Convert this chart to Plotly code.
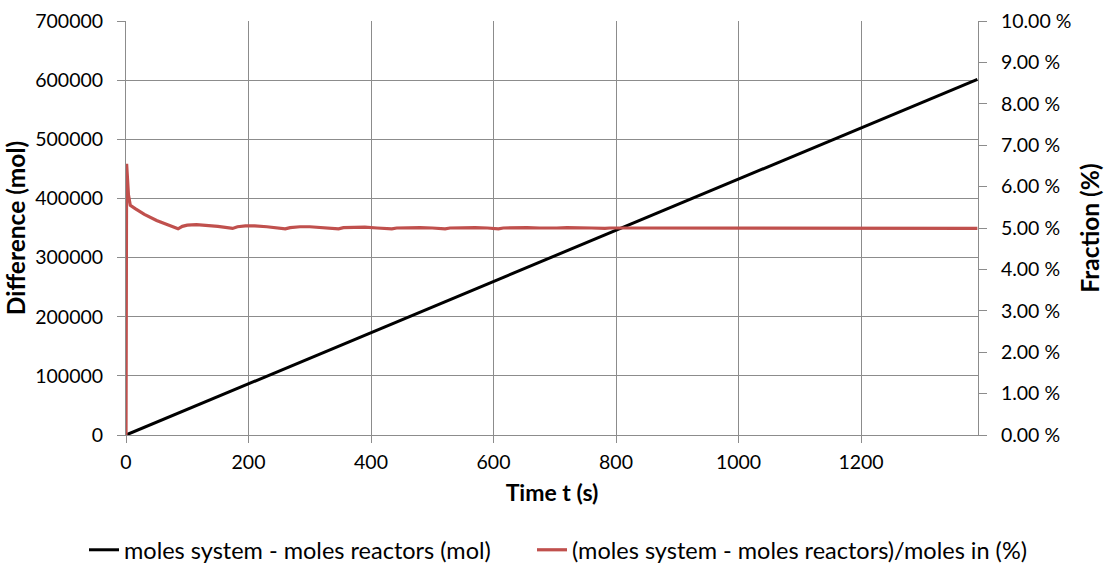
import plotly.graph_objects as go

# Time (s) and molar difference (black series, left axis)
t_black = [0, 200, 400, 600, 800, 1000, 1200, 1390]
diff_mol = [0, 86700, 173400, 260100, 346800, 433500, 520200, 601500]

# Time (s) and fraction (%) (red series, right axis)
t_red = [0, 0.5, 1, 2, 4, 7, 15, 30, 50, 70, 85, 92, 100, 115, 130, 150, 174,
         182, 195, 210, 230, 260, 268, 284, 300, 320, 347,
         355, 370, 390, 410, 434, 442, 460, 480, 500, 521,
         529, 545, 570, 590, 608, 616, 635, 655, 675, 695,
         703, 720, 740, 760, 782, 790, 810, 830, 850, 869,
         877, 895, 915, 935, 956, 964, 985, 1005, 1025, 1043,
         1051, 1070, 1090, 1110, 1130, 1138, 1160, 1180, 1200, 1217,
         1225, 1245, 1265, 1285, 1304, 1312, 1335, 1355, 1375, 1390]
fraction = [0, 3.3, 6.55, 6.3, 5.8, 5.55, 5.47, 5.33, 5.18, 5.06, 4.98, 5.04, 5.07, 5.08, 5.07, 5.04, 4.99,
            5.03, 5.05, 5.05, 5.03, 4.98, 5.01, 5.03, 5.03, 5.01, 4.98,
            5.01, 5.02, 5.02, 5.00, 4.98, 5.00, 5.01, 5.01, 5.00, 4.98,
            5.00, 5.01, 5.01, 5.00, 4.98, 5.00, 5.01, 5.01, 5.00, 4.99,
            5.00, 5.01, 5.01, 5.00, 4.99, 5.00, 5.00, 5.00, 5.00, 4.99,
            5.00, 5.00, 5.00, 5.00, 4.99, 5.00, 5.00, 5.00, 5.00, 4.99,
            5.00, 5.00, 5.00, 5.00, 4.99, 5.00, 5.00, 5.00, 5.00, 4.99,
            5.00, 5.00, 5.00, 5.00, 4.99, 5.00, 5.00, 5.00, 5.00, 4.99]

x_ticks = [0, 200, 400, 600, 800, 1000, 1200]
y_ticks = [0, 100000, 200000, 300000, 400000, 500000, 600000, 700000]
y2_ticks = [0, 1, 2, 3, 4, 5, 6, 7, 8, 9, 10]

font_family = "Lato, 'Open Sans', sans-serif"
TICK = 19.5
XTITLE = 23
YTITLE = 24.5
LEG = 23.5

fig = go.Figure()
fig.add_trace(go.Scatter(
    x=t_black, y=diff_mol, mode="lines",
    name="moles system - moles reactors (mol)",
    line=dict(color="#000000", width=3), yaxis="y", legend="legend"))
fig.add_trace(go.Scatter(
    x=t_red, y=fraction, mode="lines",
    name="(moles system - moles reactors)/moles in (%)",
    line=dict(color="#c0504d", width=3.2), yaxis="y2", legend="legend2"))

grid_col = "#8c8c8c"
leg_common = dict(
    orientation="h", xanchor="left", yanchor="middle",
    xref="container", yref="container",
    font=dict(size=LEG, color="#000000"), itemwidth=30,
    bgcolor="rgba(0,0,0,0)", borderwidth=0,
)
fig.update_layout(
    width=1104, height=566,
    paper_bgcolor="white", plot_bgcolor="white",
    margin=dict(l=126, r=126, t=21, b=131, autoexpand=False),
    font=dict(family=font_family, size=TICK, color="#000000"),
    xaxis=dict(
        range=[0, 1391], tickvals=x_ticks, ticktext=[str(v) for v in x_ticks],
        showgrid=True, gridcolor=grid_col, gridwidth=1,
        showline=True, linecolor=grid_col, linewidth=1,
        ticks="outside", ticklen=7, tickcolor=grid_col, ticklabelstandoff=3,
        zeroline=False,
        title=dict(text="<b>Time t (s)</b>", font=dict(size=XTITLE), standoff=12),
    ),
    yaxis=dict(
        range=[0, 700000], tickvals=y_ticks, ticktext=[str(v) for v in y_ticks],
        showgrid=True, gridcolor=grid_col, gridwidth=1,
        showline=True, linecolor=grid_col, linewidth=1,
        ticks="outside", ticklen=8, tickcolor=grid_col, ticklabelstandoff=10,
        zeroline=False,
        title=dict(text="<b>Difference (mol)</b>", font=dict(size=YTITLE), standoff=2),
    ),
    yaxis2=dict(
        range=[0, 10], overlaying="y", side="right",
        tickvals=y2_ticks, ticktext=["%.2f %%" % v for v in y2_ticks],
        showgrid=False,
        showline=True, linecolor=grid_col, linewidth=1,
        ticks="outside", ticklen=8, tickcolor=grid_col, ticklabelstandoff=10,
        zeroline=False,
        title=dict(text="<b>Fraction (%)</b>", font=dict(size=YTITLE), standoff=13),
    ),
    legend=dict(x=84 / 1104, y=1 - 550 / 566, **leg_common),
    legend2=dict(x=532 / 1104, y=1 - 550 / 566, **leg_common),
    showlegend=True,
)

fig.write_html("out.html")
